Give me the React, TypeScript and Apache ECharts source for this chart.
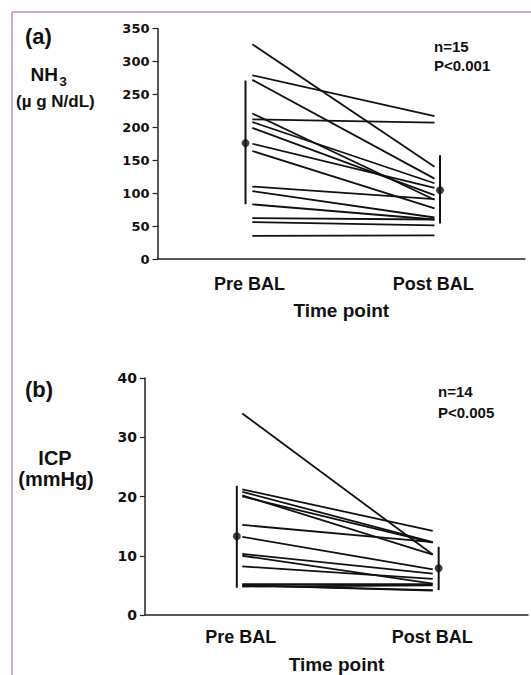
import React, { useEffect, useRef } from "react";
import * as echarts from "echarts";

// ---- Data ----
const CATEGORIES = ["Pre BAL", "Post BAL"];

// Panel (a) NH3 (µg N/dL), n = 15
const NH3_PRE = [326, 279, 272, 221, 212, 208, 199, 175, 164, 110, 103, 83, 62, 56, 35];
const NH3_POST = [140, 217, 122, 90, 207, 115, 97, 108, 77, 91, 63, 60, 60, 51, 36];
const NH3_MEAN = [176, 104.5];
const NH3_BAR_LOW = [83, 54];
const NH3_BAR_HIGH = [271, 157.6];
const NH3_Y_MAX = 350;
const NH3_Y_STEP = 50;

// Panel (b) ICP (mmHg), n = 14
const ICP_PRE = [34, 21.2, 20.8, 20.2, 20, 15.2, 13.2, 10.3, 10, 8.2, 5.2, 5, 5, 4.8];
const ICP_POST = [10.2, 14.2, 12.3, 10.2, 12.2, 12.3, 7.7, 7, 5.3, 6.1, 5.2, 4.2, 4.1, 5];
const ICP_MEAN = [13.3, 7.9];
const ICP_BAR_LOW = [4.6, 4.2];
const ICP_BAR_HIGH = [21.8, 11.5];
const ICP_Y_MAX = 40;
const ICP_Y_STEP = 10;

const SANS = "'Liberation Sans', Arial, Helvetica, sans-serif";
const DIGITS = "'DejaVu Sans', 'Liberation Sans', Arial, sans-serif";
const INK = "#111";

export default function App() {
  const ref = useRef<HTMLDivElement>(null);

  useEffect(() => {
    if (!ref.current) return;
    const chart = echarts.init(ref.current, null, { renderer: "svg" });

    const panel = (
      idx: number,
      pre: number[],
      post: number[],
      mean: number[],
      low: number[],
      high: number[],
      lineX: [number, number],
      barX: [number, number]
    ) => {
      const series: any[] = pre.map((p, i) => ({
        type: "line",
        xAxisIndex: idx,
        yAxisIndex: idx,
        data: [
          [lineX[0], p],
          [lineX[1], post[i]],
        ],
        symbol: "none",
        silent: true,
        lineStyle: { color: INK, width: 1.8 },
        z: 2,
      }));
      [0, 1].forEach((k) => {
        series.push({
          type: "line",
          xAxisIndex: idx,
          yAxisIndex: idx,
          data: [
            [barX[k], low[k]],
            [barX[k], high[k]],
          ],
          symbol: "none",
          silent: true,
          lineStyle: { color: INK, width: 2 },
          z: 3,
        });
      });
      series.push({
        type: "scatter",
        xAxisIndex: idx,
        yAxisIndex: idx,
        data: [
          [barX[0], mean[0]],
          [barX[1], mean[1]],
        ],
        symbol: "circle",
        symbolSize: 8,
        itemStyle: { color: INK },
        silent: true,
        z: 4,
      });
      return series;
    };

    const xAxis = (gridIndex: number, labelMargin: number, nameGap: number) => ({
      type: "value",
      gridIndex,
      min: 0,
      max: 4,
      interval: 1,
      name: "Time point",
      nameLocation: "middle",
      nameGap,
      nameTextStyle: { fontFamily: SANS, fontWeight: "bold", fontSize: 19, color: INK },
      axisLine: { show: true, lineStyle: { color: "#222", width: 1.5 } },
      axisTick: { show: false },
      splitLine: { show: false },
      axisLabel: {
        margin: labelMargin,
        fontFamily: SANS,
        fontWeight: "bold",
        fontSize: 18,
        color: INK,
        formatter: (v: number) => (v === 1 ? CATEGORIES[0] : v === 3 ? CATEGORIES[1] : ""),
      },
    });

    const yAxis = (gridIndex: number, max: number, step: number, fontSize: number, margin: number) => ({
      type: "value",
      gridIndex,
      min: 0,
      max,
      interval: step,
      axisLine: { show: true, lineStyle: { color: "#222", width: 1.5 } },
      axisTick: { show: true, length: 5, lineStyle: { color: "#222", width: 1.2 } },
      splitLine: { show: false },
      axisLabel: {
        margin,
        fontFamily: DIGITS,
        fontWeight: "bold",
        fontSize,
        color: INK,
      },
    });

    const txt = (text: string, x: number, y: number, size: number, opts: any = {}) => ({
      type: "text",
      x,
      y,
      silent: true,
      style: {
        text,
        fontFamily: SANS,
        fontWeight: opts.weight || "bold",
        fontSize: size,
        fill: INK,
        align: opts.align || "left",
        verticalAlign: "middle",
      },
    });

    chart.setOption({
      animation: false,
      backgroundColor: "#ffffff",
      grid: [
        { left: 157.5, right: 6, top: 28.5, height: 230.5, containLabel: false },
        { left: 145, right: 0, top: 378, height: 238, containLabel: false },
      ],
      xAxis: [xAxis(0, 16, 42), xAxis(1, 13, 40)],
      yAxis: [
        yAxis(0, NH3_Y_MAX, NH3_Y_STEP, 13, 8),
        yAxis(1, ICP_Y_MAX, ICP_Y_STEP, 14, 8),
      ],
      series: [
        ...panel(0, NH3_PRE, NH3_POST, NH3_MEAN, NH3_BAR_LOW, NH3_BAR_HIGH, [1.032, 3.015], [0.958, 3.075]),
        ...panel(1, ICP_PRE, ICP_POST, ICP_MEAN, ICP_BAR_LOW, ICP_BAR_HIGH, [1.016, 3.005], [0.959, 3.067]),
      ],
      graphic: [
        {
          type: "line",
          silent: true,
          shape: { x1: 12, y1: 12, x2: 531, y2: 12 },
          style: { stroke: "#d7a9d1", lineWidth: 2 },
        },
        {
          type: "line",
          silent: true,
          shape: { x1: 12, y1: 12, x2: 12, y2: 675 },
          style: { stroke: "#d7a9d1", lineWidth: 2 },
        },
        txt("(a)", 25, 36, 22),
        txt("NH", 30.5, 74, 19),
        txt("3", 59.5, 81, 13),
        txt("(\u00b5 g N/dL)", 16, 101.5, 17),
        txt("n=15", 434, 46, 15),
        txt("P<0.001", 434, 65, 15),
        txt("(b)", 25, 389.5, 22),
        txt("ICP", 55, 457.5, 20, { align: "center" }),
        txt("(mmHg)", 56, 478.5, 20, { align: "center" }),
        txt("n=14", 438, 391, 15),
        txt("P<0.005", 438, 412, 15),
      ],
    });

    return () => chart.dispose();
  }, []);

  return (
    <div
      ref={ref}
      style={{ position: "fixed", left: 0, top: 0, width: 531, height: 675, background: "#fff" }}
    />
  );
}
